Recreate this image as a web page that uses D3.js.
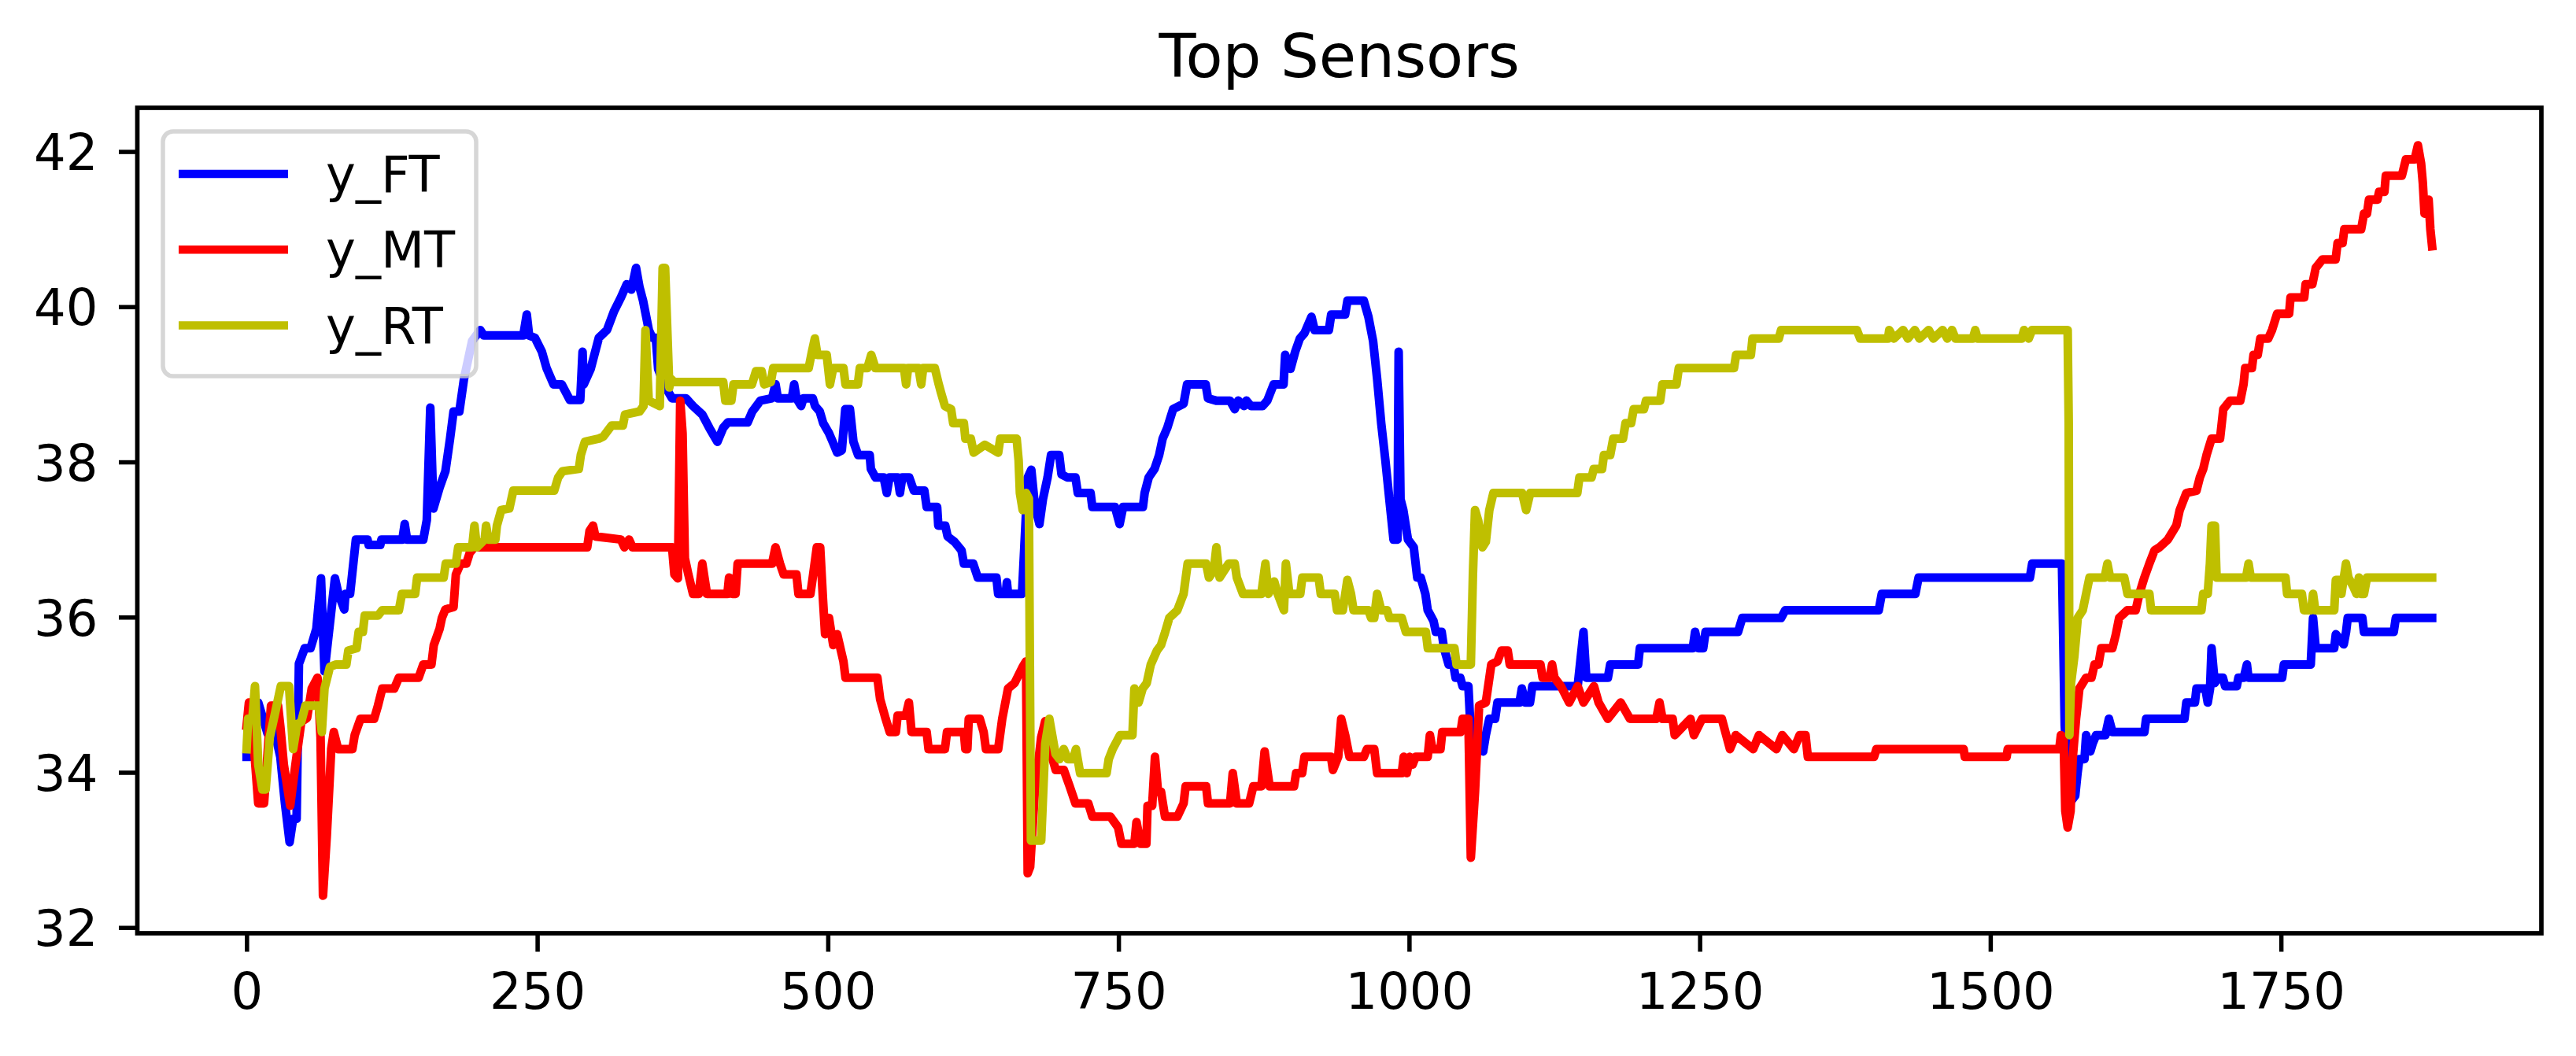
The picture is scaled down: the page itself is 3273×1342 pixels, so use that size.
<!DOCTYPE html>
<html>
<head>
<meta charset="utf-8">
<script src="https://cdn.jsdelivr.net/npm/d3@7"></script>
<style>
  body { margin: 0; background: #fff; }
  text { font-family: "DejaVu Sans", sans-serif; fill: #000; }
</style>
</head>
<body>
<div id="chart"></div>
<script>
// svg size
let svgWidth = 3273,
  svgHeight = 1342;

// plot area inside the svg
let plot = { left: 174.5, right: 3229, top: 137, bottom: 1186 };

// tick labels
let xTicks = [0, 250, 500, 750, 1000, 1250, 1500, 1750];
let yTicks = [32, 34, 36, 38, 40, 42];

let seriesNames = ["y_FT", "y_MT", "y_RT"];
let seriesColors = ["#0000ff", "#ff0000", "#bfbf00"];

// y_FT values, [sample, value]
let yFT = [
  [0,34.2],[3,34.2],[5,34.6],[10,34.9],[14,34.7],[18,34.5],[22,34.6],[26,34.4],[29,34.2],[33,33.6],[37,33.1],[40,33.4],
  [43,33.4],[45,35.4],[50,35.6],[55,35.6],[60,35.85],[64,36.5],[67,35.3],[70,35.7],[76,36.5],[79,36.3],[84,36.1],[85,36.3],
  [89,36.3],[94,37.0],[104,37.0],[105,36.93],[115,36.93],[116,37.0],[134,37.0],[136,37.2],[138,37.0],[152,37.0],[155,37.25],
  [158,38.7],[160.7,37.4],[166,37.67],[171,37.88],[175,38.3],[178,38.65],[183,38.65],[187,39.07],[191,39.35],[194,39.56],
  [201,39.7],[204,39.63],[238,39.63],[241,39.9],[243,39.63],[248,39.6],[254,39.42],[258,39.21],[264,39.0],[271,39.0],
  [278,38.8],[287,38.8],[289,39.42],[290,39.0],[296,39.2],[303,39.6],[310,39.7],[316,39.94],[322,40.12],[327,40.29],
  [331,40.22],[335,40.5],[338,40.25],[341,40.08],[346,39.7],[349,39.6],[352,39.6],[354,39.2],[359,39.0],[366,38.82],
  [378,38.82],[384,38.72],[392,38.61],[398,38.44],[405,38.26],[410,38.44],[414,38.51],[431,38.51],[435,38.65],[442,38.79],
  [452,38.82],[455,39.0],[457,38.82],[469,38.82],[471,39.0],[473,38.82],[477,38.72],[479,38.82],[487,38.82],[489,38.72],
  [493,38.65],[496,38.5],[501,38.37],[505,38.23],[508,38.12],[512,38.15],[515,38.68],[519,38.68],[522,38.26],[526,38.09],
  [536,38.09],[537,37.91],[541,37.8],[548,37.8],[550.7,37.6],[553,37.8],[560,37.8],[562,37.6],[564,37.8],[570,37.8],
  [574,37.63],[583,37.63],[585,37.42],[594,37.42],[595,37.18],[601,37.18],[603,37.04],[609,36.97],[615,36.86],[617,36.69],
  [625,36.69],[629,36.51],[645,36.51],[646.5,36.3],[653,36.3],[654,36.45],[655,36.3],[667,36.3],[669,36.9],[672,37.8],
  [675,37.9],[678,37.45],[682,37.2],[685,37.52],[689,37.8],[692,38.09],[699,38.09],[701,37.84],[706,37.8],[713,37.8],
  [715,37.6],[726,37.6],[727.5,37.42],[747,37.42],[751,37.2],[754,37.42],[771,37.42],[772.5,37.6],[776,37.8],[781,37.91],
  [785,38.09],[788,38.3],[792,38.44],[797,38.68],[806,38.75],[809,39.0],[825,39.0],[827,38.82],[834,38.79],[846,38.79],
  [850,38.68],[853,38.79],[858,38.72],[860,38.79],[864,38.72],[874,38.72],[878,38.79],[883.5,39.0],[892,39.0],[893.4,39.38],
  [898,39.2],[902,39.42],[906,39.59],[910,39.66],[916,39.87],[918.7,39.7],[931,39.7],[933,39.9],[945,39.9],[947,40.08],
  [961,40.08],[965,39.87],[969,39.56],[972.5,39.07],[976,38.5],[979.6,38.02],[983,37.52],[986.6,37.0],[990,37.0],[991,39.42],
  [992.6,37.52],[995,37.38],[999,37.0],[1004,36.9],[1007,36.51],[1010,36.51],[1014,36.3],[1016,36.09],[1021,35.95],
  [1023,35.81],[1028,35.81],[1030,35.6],[1034,35.39],[1038,35.39],[1040,35.22],[1044,35.22],[1046,35.11],[1051,35.11],
  [1053,34.52],[1056,34.3],[1060,34.3],[1063.7,34.27],[1066,34.48],[1069,34.69],[1074,34.69],[1076,34.9],[1095,34.9],
  [1097,35.08],[1100,34.9],[1104,34.9],[1106,35.11],[1145,35.11],[1150,35.81],[1152.4,35.22],[1171,35.22],[1173,35.39],
  [1197,35.39],[1198.5,35.6],[1244,35.6],[1246,35.81],[1249,35.6],[1253,35.6],[1255,35.81],[1283,35.81],[1286.6,35.99],
  [1320,35.99],[1323.6,36.09],[1404,36.09],[1406.6,36.3],[1435.5,36.3],[1438.3,36.51],[1534,36.51],[1536,36.69],
  [1561.6,36.69],[1564,34.6],[1568,33.6],[1573,33.7],[1575,33.99],[1576.6,34.17],[1581,34.17],[1582.4,34.48],[1586,34.27],
  [1588,34.37],[1591,34.48],[1599,34.48],[1602,34.69],[1605,34.52],[1632.5,34.52],[1634,34.69],[1667,34.69],[1668.6,34.9],
  [1676,34.9],[1677.3,35.08],[1685,35.08],[1687,34.9],[1689,35.08],[1690.3,35.6],[1693,35.15],[1696,35.22],[1700,35.22],
  [1702,35.11],[1712,35.11],[1713.4,35.22],[1718,35.22],[1720.7,35.39],[1722,35.22],[1751,35.22],[1752.5,35.39],
  [1775.6,35.39],[1777.6,35.99],[1779.9,35.6],[1795.8,35.6],[1797.2,35.78],[1804,35.65],[1806,35.81],[1807.4,35.99],
  [1820,35.99],[1821.4,35.81],[1847,35.81],[1848.8,35.99],[1880,35.99]
];

// y_MT values
let yMT = [
  [0,34.6],[2,34.9],[5,34.5],[7,34.2],[10,33.6],[15,33.6],[19,34.45],[21,34.86],[27,34.86],[29,34.59],[32,34.1],
  [37.5,33.57],[42,34.1],[47,34.65],[52,34.7],[56,35.08],[61,35.22],[63.6,34.45],[65.7,32.41],[69,33.19],[72.8,34.3],
  [75,34.52],[78.7,34.3],[91,34.3],[93,34.48],[98,34.69],[109.7,34.69],[113,34.86],[116.7,35.08],[127,35.08],[131,35.22],
  [148,35.22],[152,35.39],[159,35.39],[161,35.64],[166,35.85],[168,35.99],[171,36.1],[178,36.13],[180,36.55],[184,36.69],
  [189,36.69],[192,36.83],[196,36.9],[293,36.9],[295,37.11],[298,37.18],[300,37.04],[322,37.0],[325,36.9],[329,37.0],
  [332,36.9],[366,36.9],[368,36.55],[371,36.5],[373,38.79],[375,38.37],[377,36.76],[380,36.55],[384,36.3],[389,36.3],
  [392,36.69],[396,36.3],[413.6,36.3],[415,36.51],[418,36.3],[420.6,36.3],[422.4,36.69],[452,36.69],[455,36.9],
  [458.8,36.69],[462,36.55],[473,36.55],[474.7,36.3],[485,36.3],[487,36.51],[490.5,36.9],[493.4,36.9],[495.8,36.23],
  [497.6,35.78],[501,35.99],[504.6,35.64],[508,35.78],[513.4,35.43],[515.2,35.22],[542.6,35.22],[545,34.94],[549.7,34.69],
  [553.2,34.52],[558.5,34.52],[560,34.73],[567,34.73],[569.7,34.9],[572,34.52],[585,34.52],[586.6,34.3],[600.7,34.3],
  [602.5,34.52],[617,34.52],[618.3,34.3],[620,34.3],[621.2,34.69],[630.7,34.69],[634,34.52],[636,34.3],[646.5,34.3],
  [650,34.69],[655,35.08],[660.6,35.15],[667.6,35.36],[670.5,35.43],[671.9,32.7],[674,32.78],[678,33.75],[683.5,34.45],
  [687,34.66],[692,34.24],[696,34.03],[703,34.03],[708,33.82],[713,33.6],[724,33.6],[727.5,33.43],[743,33.43],
  [749.7,33.29],[752.5,33.08],[763.7,33.08],[765.5,33.36],[769,33.08],[774,33.08],[775,33.57],[779,33.57],[781.4,34.2],
  [784,33.75],[786.6,33.75],[790,33.43],[800.7,33.43],[806,33.6],[807.8,33.82],[825.4,33.82],[827,33.6],[846,33.6],
  [848.3,33.99],[851.8,33.6],[862.4,33.6],[866,33.82],[873,33.82],[875.7,34.27],[880,33.82],[901,33.82],[902.8,33.99],
  [908,33.99],[910,34.2],[932.8,34.2],[934.5,34.03],[939,34.2],[941.6,34.69],[945,34.48],[948.7,34.2],[961,34.2],
  [963.8,34.3],[970,34.3],[972.5,33.99],[993.7,33.99],[995.4,34.2],[998,33.99],[1000.7,34.2],[1003,34.1],[1005.6,34.2],
  [1016,34.2],[1017.9,34.48],[1020,34.3],[1027,34.3],[1028.5,34.52],[1044.3,34.52],[1046,34.69],[1051,34.69],[1053.1,32.9],
  [1056.7,33.75],[1060.2,34.86],[1066,34.9],[1070.7,35.39],[1076,35.43],[1079.5,35.57],[1084.8,35.57],[1086.6,35.39],
  [1113,35.39],[1114.8,35.22],[1121,35.22],[1123,35.39],[1125,35.22],[1130.6,35.11],[1137.7,34.9],[1145,35.11],[1150,34.9],
  [1159,35.11],[1163,34.9],[1171,34.69],[1182,34.9],[1190,34.69],[1212.6,34.69],[1215.4,34.9],[1218,34.69],[1226.7,34.69],
  [1228.5,34.48],[1242,34.69],[1245,34.48],[1252,34.69],[1269,34.69],[1276,34.3],[1281,34.48],[1296,34.3],[1301,34.48],
  [1316,34.3],[1321,34.48],[1331,34.3],[1336,34.48],[1341,34.48],[1343,34.2],[1400,34.2],[1402,34.3],[1477,34.3],
  [1478,34.2],[1514,34.2],[1515,34.3],[1559.3,34.3],[1560.7,34.48],[1563,34.45],[1564.5,33.5],[1566.5,33.29],[1569,33.5],
  [1570.8,34.17],[1573.7,34.69],[1576.6,35.08],[1579.5,35.15],[1582.4,35.22],[1587,35.22],[1589.6,35.39],[1593,35.39],
  [1595.4,35.6],[1605,35.6],[1608,35.78],[1610.8,35.99],[1618,36.09],[1625,36.09],[1628.2,36.3],[1632.5,36.51],
  [1636.8,36.69],[1641.2,36.86],[1645.5,36.9],[1652.7,37.0],[1660,37.18],[1662.9,37.38],[1668.6,37.6],[1677.3,37.63],
  [1680.2,37.8],[1683.1,37.91],[1686,38.09],[1690.3,38.3],[1697.6,38.3],[1700.4,38.68],[1706.2,38.79],[1715,38.79],
  [1717.8,39.0],[1719.2,39.21],[1725,39.21],[1726.4,39.38],[1730,39.38],[1732.2,39.59],[1739,39.59],[1742.3,39.7],
  [1746.7,39.91],[1757,39.91],[1758.2,40.12],[1770,40.12],[1771.2,40.29],[1777,40.29],[1779.9,40.5],[1785.7,40.61],
  [1797,40.61],[1798.7,40.82],[1803,40.82],[1804.5,41.0],[1819,41.0],[1821.4,41.2],[1824,41.2],[1825.7,41.38],[1833,41.38],
  [1834.4,41.48],[1839,41.48],[1840.2,41.69],[1854,41.69],[1857.5,41.9],[1865,41.9],[1867.8,42.08],[1870.5,41.85],
  [1872,41.6],[1873.5,41.2],[1875,41.3],[1877,41.38],[1878.5,41.0],[1880,40.78]
];

// y_RT values
let yRT = [
  [0,34.3],[1.3,34.69],[5,34.7],[7.2,35.11],[10,34.1],[13.6,33.78],[16.4,33.78],[19.9,34.45],[24,34.73],[29.4,35.11],
  [36.5,35.11],[40,34.3],[43.5,34.62],[47,34.65],[50.6,34.86],[62,34.86],[64.7,34.52],[67,35.08],[71.7,35.36],[77,35.39],
  [85.8,35.39],[87.5,35.57],[94.6,35.6],[96.4,35.81],[100,35.81],[101.6,36.02],[113,36.02],[116.7,36.09],[131,36.09],
  [133.6,36.3],[145,36.3],[146.7,36.51],[169.5,36.51],[171.3,36.69],[180,36.69],[182,36.9],[194,36.9],[196,37.18],
  [198,36.9],[204.8,37.0],[206,37.18],[208,37.0],[214,37.0],[215.3,37.18],[219,37.38],[226,37.4],[229.4,37.63],
  [264.6,37.63],[268,37.8],[271.7,37.88],[285.8,37.91],[287.5,38.09],[291,38.26],[303,38.3],[307,38.33],[314,38.47],
  [323.7,38.47],[325.5,38.61],[338,38.65],[341.4,38.72],[343.1,39.7],[345.9,38.79],[355.4,38.72],[357.9,40.5],[360,40.5],
  [363.6,38.96],[365,39.07],[367.8,39.03],[410,39.03],[411.8,38.79],[417,38.79],[418.8,39.0],[434.7,39.0],[438.2,39.17],
  [443,39.17],[445.3,39.0],[451,39.03],[453,39.21],[483.5,39.21],[486.3,39.42],[488.8,39.59],[491,39.38],[499,39.38],
  [501.8,39.0],[504.6,39.21],[513.4,39.21],[515.2,39.0],[525.8,39.0],[527.5,39.21],[534,39.21],[537.3,39.38],[540.9,39.21],
  [565.5,39.21],[567.3,39.0],[569,39.21],[578,39.21],[580.3,39.0],[582,39.21],[592,39.21],[595.4,39.0],[597.2,38.9],
  [600.7,38.72],[606,38.68],[607.8,38.5],[617,38.5],[618.3,38.3],[623,38.3],[625.4,38.12],[635,38.22],[646.5,38.12],
  [648.3,38.3],[662.4,38.3],[664.1,38.02],[665.2,37.6],[667.6,37.38],[670.5,37.6],[672.9,37.53],[674.7,33.12],[683.5,33.12],
  [687,34.37],[690.5,34.69],[695.8,34.24],[699.3,34.17],[702.9,34.3],[706.4,34.17],[711,34.17],[713.4,34.3],[717,33.99],
  [739.8,33.99],[741.6,34.17],[745,34.3],[751.4,34.48],[762,34.48],[763.7,35.08],[767.3,34.9],[770.8,35.08],[774.3,35.15],
  [777.8,35.39],[783.1,35.57],[786.6,35.64],[790.2,35.81],[793.7,35.99],[800.7,36.09],[806,36.3],[809.5,36.69],
  [825.4,36.69],[827.8,36.51],[832,36.6],[834.2,36.9],[837,36.51],[844.8,36.69],[850,36.69],[851.8,36.51],[857.1,36.3],
  [872.9,36.3],[876.4,36.69],[879,36.3],[884,36.46],[887,36.3],[892.3,36.09],[894,36.69],[897,36.3],[906.4,36.3],
  [908.1,36.51],[922.2,36.51],[924,36.3],[936,36.3],[938,36.09],[943,36.09],[945.1,36.3],[946.9,36.48],[950,36.3],
  [952.2,36.09],[965,36.09],[967.3,35.99],[970,35.99],[972.5,36.3],[976,36.09],[981,36.09],[983.1,35.99],[993.7,35.99],
  [997.2,35.81],[1014.4,35.81],[1016.1,35.6],[1039,35.6],[1040.8,35.39],[1053.1,35.39],[1054.9,36.55],[1056.7,37.38],
  [1059.5,37.24],[1063,36.9],[1066,36.97],[1069,37.38],[1072.5,37.6],[1097.2,37.6],[1100.7,37.38],[1104.2,37.6],
  [1144.7,37.6],[1146.5,37.8],[1157,37.8],[1158.8,37.91],[1166,37.91],[1167.6,38.09],[1173,38.09],[1175.6,38.3],
  [1184,38.3],[1186.2,38.5],[1191,38.5],[1193.2,38.68],[1202,38.68],[1203.8,38.79],[1216,38.79],[1217.9,39.0],[1230,39.0],
  [1232,39.21],[1279.5,39.21],[1281.3,39.38],[1294,39.38],[1295.4,39.59],[1318,39.59],[1320,39.7],[1385.2,39.7],
  [1388,39.59],[1412,39.59],[1413,39.7],[1417,39.59],[1425,39.7],[1429,39.59],[1435,39.7],[1439,39.59],[1447,39.7],
  [1451,39.59],[1459,39.7],[1463,39.59],[1467,39.7],[1470,39.59],[1485,39.59],[1487,39.7],[1489,39.59],[1527,39.59],
  [1529,39.7],[1533,39.59],[1535.9,39.7],[1566.5,39.7],[1567.4,38.5],[1568,34.48],[1569.4,35.15],[1572.3,35.5],
  [1575.2,35.99],[1579.5,36.09],[1582.4,36.3],[1585.3,36.51],[1598.3,36.51],[1600.7,36.69],[1603,36.51],[1615.2,36.51],
  [1618,36.3],[1636.8,36.3],[1638.3,36.09],[1681.6,36.09],[1683.1,36.3],[1687,36.3],[1688.9,36.69],[1690.3,37.18],
  [1693.2,37.18],[1694.6,36.51],[1720,36.51],[1722.1,36.69],[1724,36.51],[1753.9,36.51],[1755.3,36.3],[1768,36.3],
  [1769.8,36.09],[1776,36.09],[1777.6,36.3],[1779.5,36.09],[1795.8,36.09],[1797.2,36.48],[1800,36.48],[1802,36.3],
  [1805.9,36.69],[1808,36.51],[1812,36.4],[1815,36.3],[1817,36.51],[1819,36.3],[1821.4,36.3],[1824,36.51],[1880,36.51]
];

let allSeries = [yFT, yMT, yRT];

// svg
let svg = d3
  .select("#chart")
  .append("svg")
  .attr("width", svgWidth)
  .attr("height", svgHeight);

svg.append("rect").attr("width", svgWidth).attr("height", svgHeight).attr("fill", "#fff");

// scales, matplotlib style 5% margins
let xMin = d3.min(allSeries, (s) => d3.min(s, (d) => d[0]));
let xMax = d3.max(allSeries, (s) => d3.max(s, (d) => d[0]));
let xPad = (xMax - xMin) * 0.05;
let xScale = d3
  .scaleLinear()
  .domain([xMin - xPad, xMax + xPad])
  .range([plot.left, plot.right]);

let yMin = d3.min(allSeries, (s) => d3.min(s, (d) => d[1]));
let yMax = d3.max(allSeries, (s) => d3.max(s, (d) => d[1]));
let yPad = (yMax - yMin) * 0.05;
let yScale = d3
  .scaleLinear()
  .domain([yMin - yPad, yMax + yPad])
  .range([plot.bottom, plot.top]);

// clip lines to the plot box
svg
  .append("clipPath")
  .attr("id", "plotClip")
  .append("rect")
  .attr("x", plot.left)
  .attr("y", plot.top)
  .attr("width", plot.right - plot.left)
  .attr("height", plot.bottom - plot.top);

let lineGen = d3
  .line()
  .x((d) => xScale(d[0]))
  .y((d) => yScale(d[1]));

let lineGroup = svg.append("g").attr("clip-path", "url(#plotClip)");

allSeries.forEach((series, i) => {
  lineGroup
    .append("path")
    .datum(series)
    .attr("d", lineGen)
    .attr("fill", "none")
    .attr("stroke", seriesColors[i])
    .attr("stroke-width", 11)
    .attr("stroke-linejoin", "round")
    .attr("stroke-linecap", "square");
});

// axes
let fontSize = 64;

let xAxis = d3.axisBottom(xScale).tickValues(xTicks).tickSize(23.5).tickFormat(d3.format("d"));
let xAxisGroup = svg
  .append("g")
  .attr("transform", `translate(0, ${plot.bottom})`)
  .call(xAxis);

let yAxis = d3.axisLeft(yScale).tickValues(yTicks).tickSize(23.5).tickFormat(d3.format("d"));
let yAxisGroup = svg
  .append("g")
  .attr("transform", `translate(${plot.left}, 0)`)
  .call(yAxis);

[xAxisGroup, yAxisGroup].forEach((g) => {
  g.select(".domain").remove();
  g.selectAll(".tick line").attr("stroke", "#000").attr("stroke-width", 5.5);
  g.selectAll(".tick text")
    .attr("font-family", "DejaVu Sans")
    .attr("font-size", fontSize)
    .attr("fill", "#000");
});

xAxisGroup.selectAll(".tick text").attr("y", 96).attr("dy", null);
yAxisGroup.selectAll(".tick text").attr("x", -50).attr("dy", "0.36em");

// frame
svg
  .append("rect")
  .attr("x", plot.left)
  .attr("y", plot.top)
  .attr("width", plot.right - plot.left)
  .attr("height", plot.bottom - plot.top)
  .attr("fill", "none")
  .attr("stroke", "#000")
  .attr("stroke-width", 5.7);

// title
svg
  .append("text")
  .attr("x", (plot.left + plot.right) / 2)
  .attr("y", 98)
  .attr("text-anchor", "middle")
  .attr("font-size", 77)
  .text("Top Sensors");

// legend
let legend = svg.append("g").attr("transform", "translate(207, 167)");

legend
  .append("rect")
  .attr("width", 398)
  .attr("height", 311)
  .attr("rx", 13)
  .attr("fill", "#fff")
  .attr("fill-opacity", 0.8)
  .attr("stroke", "#cccccc")
  .attr("stroke-opacity", 0.8)
  .attr("stroke-width", 5.5);

seriesNames.forEach((name, i) => {
  let row = legend.append("g").attr("transform", `translate(0, ${54 + i * 96.3})`);
  row
    .append("line")
    .attr("x1", 20)
    .attr("x2", 159)
    .attr("stroke", seriesColors[i])
    .attr("stroke-width", 10.5)
    .attr("stroke-linecap", "butt");
  row
    .append("text")
    .attr("x", 207)
    .attr("y", 23)
    .attr("font-size", fontSize)
    .text(name);
});
</script>
</body>
</html>
